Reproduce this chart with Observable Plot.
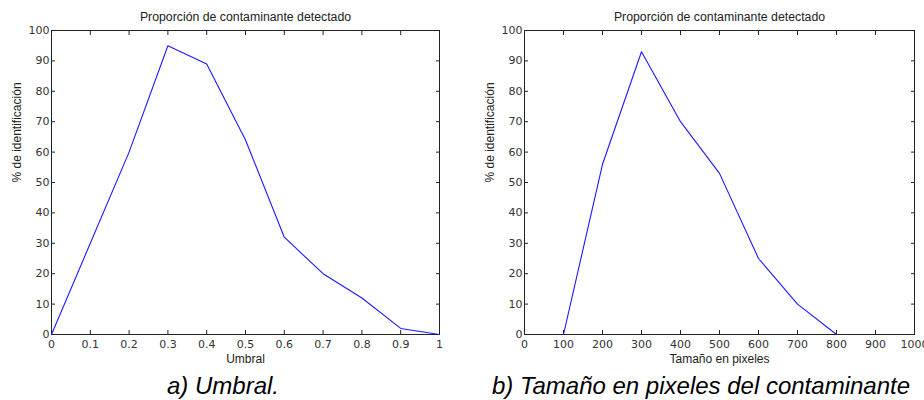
<!DOCTYPE html>
<html><head><meta charset="utf-8">
<script src="https://cdn.jsdelivr.net/npm/d3@7"></script>
<script src="https://cdn.jsdelivr.net/npm/@observablehq/plot@0.6"></script>
<style>
body{margin:0;background:#fff;font-family:"Liberation Sans",Arial,sans-serif;}
#wrap{position:relative;width:924px;height:400px;overflow:hidden;}
.panel{position:absolute;top:0;}
.cap{position:absolute;top:372px;font-style:italic;font-size:24px;line-height:28px;color:#000;white-space:nowrap;transform:translateX(-50%);}
</style></head>
<body><div id="wrap"></div>
<script>
const titleText = "Proporción de contaminante detectado";
const yLabel = "% de identificación";
const umbralX = [0,0.1,0.2,0.3,0.4,0.5,0.6,0.7,0.8,0.9,1];
const umbralY = [0,30,60,95,89,64,32,20,12,2,0];
const umbralTicks = [0,0.1,0.2,0.3,0.4,0.5,0.6,0.7,0.8,0.9,1];
const sizeX = [100,200,300,400,500,600,700,800];
const sizeY = [0,56,93,70,53,25,10,0];
const sizeTicks = [0,100,200,300,400,500,600,700,800,900,1000];
const yTicks = [0,10,20,30,40,50,60,70,80,90,100];
const captionA = "a) Umbral.";
const captionB = "b) Tamaño en pixeles del contaminante";
const xLabelA = "Umbral";
const xLabelB = "Tamaño en pixeles";

const tickFont = "'DejaVu Sans', sans-serif";
function makePlot(xs, ys, xTicks, xDomain, xLabel, margins, fmt){
  const data = xs.map((x,i)=>({x, y: ys[i]}));
  return Plot.plot({
    width: 462, height: 372,
    marginLeft: margins[0], marginRight: margins[1], marginTop: 30, marginBottom: 38,
    style: {fontFamily: "'Liberation Sans', Arial, sans-serif", fontSize: "12px", background: "#fff", overflow: "visible"},
    x: {domain: xDomain, label: null},
    y: {domain: [0,100], label: null},
    marks: [
      Plot.frame({stroke: "#222", strokeWidth: 1}),
      Plot.axisX(xTicks, {anchor: "bottom", tickSize: -4, tickPadding: 10, tickFormat: fmt, fontSize: 11, fontFamily: tickFont, fill:"#333", stroke:"#222"}),
      Plot.axisX(xTicks, {anchor: "top", tickSize: -4, tickFormat: () => "", stroke:"#222"}),
      Plot.axisY(yTicks, {anchor: "left", tickSize: -4, tickPadding: 6, fontSize: 11, fontFamily: tickFont, fill:"#333", stroke:"#222"}),
      Plot.axisY(yTicks, {anchor: "right", tickSize: -4, tickFormat: () => "", stroke:"#222"}),
      Plot.line(data, {x: "x", y: "y", stroke: "#1a1aff", strokeWidth: 1.1}),
      Plot.text([titleText], {frameAnchor: "top", lineAnchor: "middle", dy: -13.5, fontSize: 12.3, fill: "#222"}),
      Plot.text([xLabel], {frameAnchor: "bottom", lineAnchor: "middle", dy: 25, fontSize: 12, fill: "#222"}),
      Plot.text([yLabel], {frameAnchor: "left", lineAnchor: "middle", dx: -34, rotate: -90, fontSize: 12, fill: "#222"})
    ]
  });
}

const wrap = document.getElementById("wrap");
const pA = document.createElement("div"); pA.className = "panel"; pA.style.left = "0px";
pA.appendChild(makePlot(umbralX, umbralY, umbralTicks, [0,1], xLabelA, [51,23], d => d3.format("")(d)));
wrap.appendChild(pA);
const pB = document.createElement("div"); pB.className = "panel"; pB.style.left = "462px";
pB.appendChild(makePlot(sizeX, sizeY, sizeTicks, [0,1000], xLabelB, [62,10], d => String(d)));
wrap.appendChild(pB);
const cA = document.createElement("div"); cA.className = "cap"; cA.style.left = "223px"; cA.textContent = captionA; wrap.appendChild(cA);
const cB = document.createElement("div"); cB.className = "cap"; cB.style.left = "701px"; cB.textContent = captionB; wrap.appendChild(cB);
</script></body></html>
